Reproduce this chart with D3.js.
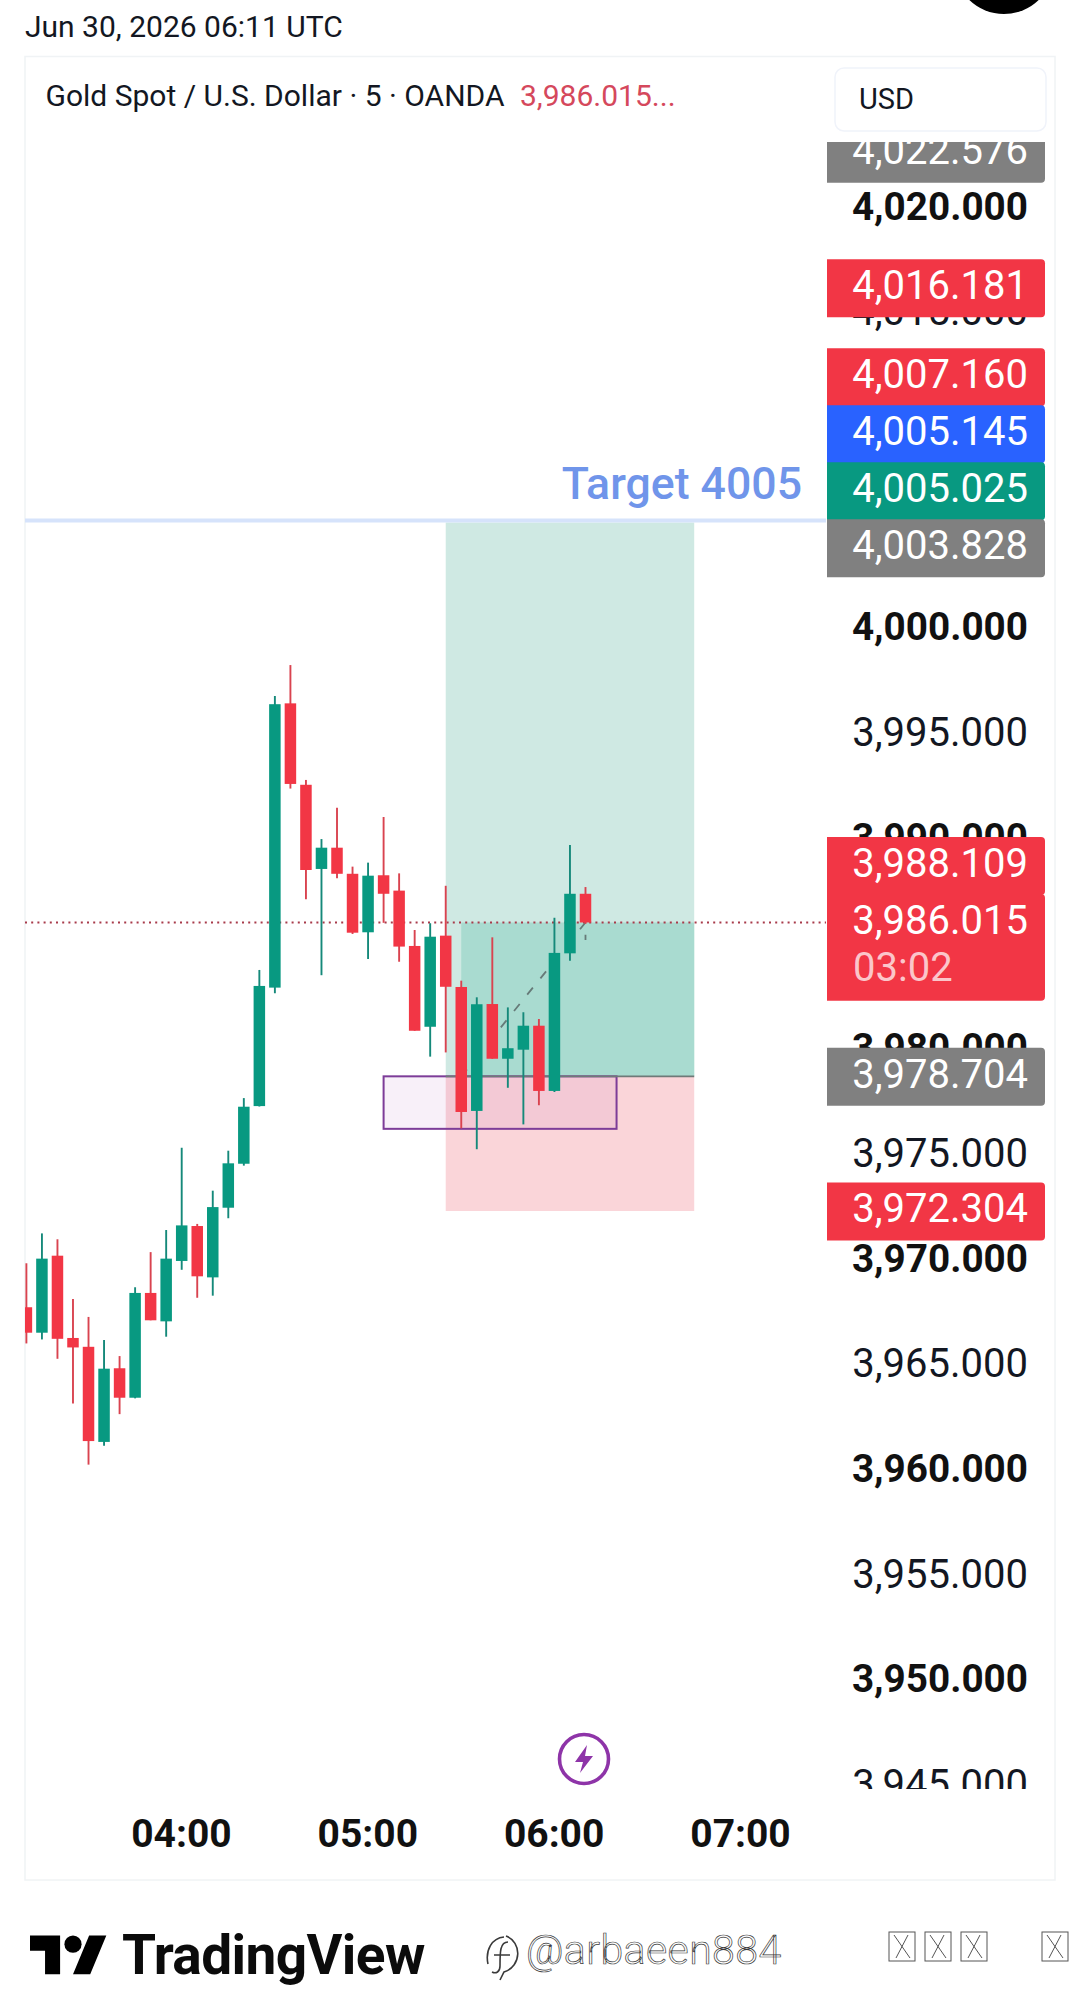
<!DOCTYPE html>
<html>
<head>
<meta charset="utf-8">
<script src="https://cdn.jsdelivr.net/npm/d3@7"></script>
<style>
  html, body { margin: 0; padding: 0; background: #fff; }
  svg { display: block; }
  text { font-family: Roboto, sans-serif; }
</style>
</head>
<body>
<svg id="chart" width="1080" height="2006"></svg>
<script>
// XAUUSD 5-minute candles, UTC
const candleTimes = ["03:10","03:15","03:20","03:25","03:30","03:35","03:40","03:45","03:50","03:55",
  "04:00","04:05","04:10","04:15","04:20","04:25","04:30","04:35","04:40","04:45","04:50","04:55",
  "05:00","05:05","05:10","05:15","05:20","05:25","05:30","05:35","05:40","05:45","05:50","05:55",
  "06:00","06:05","06:10"];
const opens = [3967.73,3966.52,3970.18,3966.27,3965.85,3961.33,3964.83,3963.43,3968.41,3967.06,
  3969.93,3971.59,3969.15,3972.46,3974.55,3977.29,3982.92,3996.43,3992.56,3988.56,3989.57,3988.33,
  3985.55,3988.26,3987.53,3984.90,3981.06,3985.39,3982.95,3977.06,3982.14,3979.54,3979.97,3981.11,
  3978.01,3984.55,3987.38];
const highs = [3969.82,3971.24,3970.96,3968.12,3967.27,3966.17,3965.41,3968.68,3970.35,3971.40,
  3975.31,3971.69,3973.27,3975.17,3977.67,3983.76,3996.78,3998.25,3992.79,3989.98,3991.47,3988.67,
  3988.86,3991.03,3988.35,3985.66,3985.98,3987.76,3983.25,3982.46,3985.31,3981.98,3981.75,3981.43,
  3986.24,3989.70,3987.70];
const lows = [3966.01,3966.20,3965.28,3963.16,3960.25,3961.15,3962.65,3963.40,3967.11,3966.33,
  3969.51,3968.18,3968.28,3971.96,3974.46,3977.27,3982.65,3992.38,3987.12,3983.51,3988.12,3985.47,
  3984.28,3986.00,3984.15,3980.87,3979.64,3979.84,3976.23,3975.24,3979.54,3978.16,3976.42,3977.33,
  3977.96,3984.20,3985.95];
const closes = [3966.52,3970.04,3966.23,3965.82,3961.37,3964.81,3963.43,3968.41,3967.11,3970.04,
  3971.62,3969.20,3972.49,3974.57,3977.26,3983.00,3996.39,3992.60,3988.51,3989.57,3988.33,3985.53,
  3988.24,3987.38,3984.87,3980.87,3985.34,3982.96,3977.01,3982.13,3979.54,3980.04,3981.11,3978.01,
  3984.57,3987.38,3986.015];

// Long position drawing
const entryPrice = 3978.704, targetPrice = 4005.025, stopPrice = 3972.304, lastPrice = 3986.015;
const positionTimes = ["05:25", "05:30", "06:45"];
const zoneTimes = ["05:05", "06:20"];
const projectionTimes = ["05:30", "06:10", "06:10"];
const projectionPrices = [3978.704, 3986.015, 3985.18];

// Axis ticks
const priceTicks = [4020,4015,4010,4005,4000,3995,3990,3985,3980,3975,3970,3965,3960,3955,3950,3945];
const timeTicks = ["04:00","05:00","06:00","07:00"];

// Right-hand price tags
const tagPrices = [4022.576,4016.181,4007.160,4005.145,4005.025,4003.828,3988.109,3986.015,3978.704,3972.304];
const tagKinds = ["gray","red","red","blue","green","gray","red","last","gray","red"];
const countdown = "03:02";

const watermark = "@arbaeen884";
const dateLine = "Jun 30, 2026 06:11 UTC";
const legendTitle = "Gold Spot / U.S. Dollar · 5 · OANDA";
const legendPrice = "3,986.015...";

const UP = "#089981", DOWN = "#f23645", INK = "#131722";
const tagFill = { gray: "#808080", red: DOWN, last: DOWN, blue: "#2962ff", green: UP };

const parseT = d3.utcParse("%H:%M");
const x = d3.scaleUtc().domain([parseT("04:00"), parseT("07:00")]).range([181.7, 740.8]);
const y = d3.scaleLinear().domain([3986.015, 4020]).range([922.5, 207.4]);

const svg = d3.select("#chart");
const defs = svg.append("defs");
const paneL = 25, paneR = 826, paneT = 142, paneB = 1789;
defs.append("clipPath").attr("id", "pane").append("rect")
  .attr("x", paneL).attr("y", paneT).attr("width", paneR - paneL).attr("height", paneB - paneT);
defs.append("clipPath").attr("id", "scale").append("rect")
  .attr("x", paneR).attr("y", paneT).attr("width", 1055 - paneR).attr("height", paneB - paneT);

// Screen furniture above the chart
svg.append("circle").attr("cx", 1004).attr("cy", -36).attr("r", 50).attr("fill", "#000");
svg.append("rect").attr("x", 25).attr("y", 56.5).attr("width", 1030).attr("height", 1823.5)
  .attr("fill", "#fff").attr("stroke", "#f0f3f5").attr("stroke-width", 1.5);
svg.append("text").attr("x", 25).attr("y", 37).attr("font-size", 30).attr("fill", INK).text(dateLine);
svg.append("text").attr("x", 45.5).attr("y", 106).attr("font-size", 30).attr("fill", INK).text(legendTitle);
svg.append("text").attr("x", 520).attr("y", 106).attr("font-size", 30).attr("fill", "#d5485c").text(legendPrice);
svg.append("rect").attr("x", 835).attr("y", 68).attr("width", 211).attr("height", 63).attr("rx", 9)
  .attr("fill", "#fff").attr("stroke", "#f0f3fa").attr("stroke-width", 1.5);
svg.append("text").attr("x", 859).attr("y", 109).attr("font-size", 29).attr("fill", INK).text("USD");

// Plot pane
const pane = svg.append("g").attr("clip-path", "url(#pane)");
const [tBoxStart, tEntry, tBoxEnd] = positionTimes.map(parseT);

// Profit and stop areas of the position
pane.append("rect").attr("x", x(tBoxStart)).attr("width", x(tBoxEnd) - x(tBoxStart))
  .attr("y", y(targetPrice)).attr("height", y(entryPrice) - y(targetPrice)).attr("fill", "#cfe9e3");
pane.append("rect").attr("x", x(tBoxStart)).attr("width", x(tBoxEnd) - x(tBoxStart))
  .attr("y", y(entryPrice)).attr("height", y(stopPrice) - y(entryPrice)).attr("fill", "#fad5d9");
pane.append("rect").attr("x", x(tEntry)).attr("width", x(tBoxEnd) - x(tEntry))
  .attr("y", y(lastPrice)).attr("height", y(entryPrice) - y(lastPrice)).attr("fill", "#a9dbd0");

// Demand zone
const [tZoneA, tZoneB] = zoneTimes.map(parseT);
pane.append("rect").attr("x", x(tZoneA)).attr("width", x(tZoneB) - x(tZoneA))
  .attr("y", y(entryPrice)).attr("height", 52.5)
  .attr("fill", "#9c27b0").attr("fill-opacity", 0.07)
  .attr("stroke", "#7d3c98").attr("stroke-width", 2);

// Entry level across the position
pane.append("line").attr("x1", x(tBoxStart)).attr("x2", x(tBoxEnd))
  .attr("y1", y(entryPrice)).attr("y2", y(entryPrice))
  .attr("stroke", "#6f7a78").attr("stroke-width", 1.8);

// Target level and its caption
pane.append("line").attr("x1", paneL).attr("x2", paneR)
  .attr("y1", y(targetPrice) - 2).attr("y2", y(targetPrice) - 2)
  .attr("stroke", "#d6e3fb").attr("stroke-width", 4);
pane.append("text").attr("x", 802).attr("y", 499).attr("text-anchor", "end")
  .attr("font-size", 44.6).attr("font-weight", 500).attr("fill", "#7095ea").text("Target 4005");

// Last price line
pane.append("line").attr("x1", paneL).attr("x2", paneR)
  .attr("y1", y(lastPrice)).attr("y2", y(lastPrice))
  .attr("stroke", "#a83a4a").attr("stroke-width", 1.8).attr("stroke-dasharray", "2 4.2");

// Projected path
const projection = d3.line().x(d => x(parseT(d[0]))).y(d => y(d[1]));
pane.append("path").attr("d", projection(d3.zip(projectionTimes, projectionPrices)))
  .attr("fill", "none").attr("stroke", "#667a78").attr("stroke-width", 1.8)
  .attr("stroke-dasharray", "9 12");

// Candles
const candles = candleTimes.map((t, i) => ({
  t: parseT(t), o: opens[i], h: highs[i], l: lows[i], c: closes[i]
}));
const bodyW = 11.5;
const candle = pane.selectAll("g.candle").data(candles).join("g").attr("class", "candle");
candle.append("line")
  .attr("x1", d => x(d.t)).attr("x2", d => x(d.t))
  .attr("y1", d => y(d.h)).attr("y2", d => y(d.l))
  .attr("stroke", d => d.c >= d.o ? "#15897a" : "#d9434f").attr("stroke-width", 1.9);
candle.append("rect")
  .attr("x", d => x(d.t) - bodyW / 2).attr("width", bodyW)
  .attr("y", d => y(Math.max(d.o, d.c)))
  .attr("height", d => Math.abs(y(d.o) - y(d.c)))
  .attr("fill", d => d.c >= d.o ? UP : DOWN);

// Bolt marker
const bolt = svg.append("g").attr("transform", "translate(584,1759)");
bolt.append("circle").attr("r", 24.5).attr("fill", "#fff").attr("stroke", "#8e34a8").attr("stroke-width", 3.6);
bolt.append("path").attr("d", "M3,-14 L-9,3 L-1,3 L-4,14 L9,-3 L1,-3 Z").attr("fill", "#8e34a8");

// Price scale
const scale = svg.append("g").attr("clip-path", "url(#scale)");
const priceAxis = d3.axisRight(y).tickValues(priceTicks).tickSize(0).tickFormat(d3.format(",.3f"));
const priceG = scale.append("g").call(priceAxis);
priceG.select(".domain").remove();
priceG.selectAll("text")
  .attr("x", 1028).attr("text-anchor", "end").attr("dy", "0.3em")
  .attr("font-family", "Roboto, sans-serif")
  .attr("font-size", d => d % 10 === 0 ? 38.7 : 40)
  .attr("font-weight", d => d % 10 === 0 ? 700 : 400)
  .attr("fill", d => d % 10 === 0 ? "#111" : INK);

// Tags stack upward so that none overlaps the one below
const tagH = 57, lastH = 105.7;
const tags = tagPrices.map((p, i) => {
  const h = tagKinds[i] === "last" ? lastH : tagH;
  return { price: p, kind: tagKinds[i], h, top: y(p) - tagH / 2 };
});
for (let i = tags.length - 2; i >= 0; i--) {
  const below = tags[i + 1];
  if (tags[i].top + tags[i].h > below.top) tags[i].top = below.top - tags[i].h;
}
const tagG = scale.selectAll("g.tag").data(tags).join("g").attr("class", "tag");
tagG.append("path").attr("fill", d => tagFill[d.kind]).attr("d", d => {
  const l = 827, r = 1045, q = 4, t = d.top, b = d.top + d.h + 1;
  return `M${l},${t}H${r - q}Q${r},${t} ${r},${t + q}V${b - q}Q${r},${b} ${r - q},${b}H${l}Z`;
});
tagG.append("text").attr("x", 1028).attr("y", d => d.top + tagH / 2 + 11.2)
  .attr("text-anchor", "end").attr("font-size", 40).attr("fill", "#fff")
  .text(d => d3.format(",.3f")(d.price));
tagG.filter(d => d.kind === "last").append("text")
  .attr("x", 853).attr("y", d => d.top + tagH / 2 + 11.2 + 47)
  .attr("font-size", 40).attr("fill", "#fff").attr("fill-opacity", 0.72).text(countdown);

// Time scale
const timeAxis = d3.axisBottom(x).tickValues(timeTicks.map(parseT)).tickSize(0)
  .tickFormat(d3.utcFormat("%H:%M"));
const timeG = svg.append("g").attr("transform", "translate(-0.8,1810)").call(timeAxis);
timeG.select(".domain").remove();
timeG.selectAll("text").attr("y", 9).attr("font-family", "Roboto, sans-serif")
  .attr("font-size", 39).attr("font-weight", 700).attr("fill", "#111");

// TradingView footer
const logo = svg.append("g").attr("transform", "translate(30,1927) scale(2.15)");
logo.append("path").attr("d", "M14 22H7V11H0V4h14v18zM28 22h-8l7.5-18h8L28 22z").attr("fill", "#000");
logo.append("circle").attr("cx", 20).attr("cy", 8).attr("r", 4).attr("fill", "#000");
svg.append("text").attr("x", 122).attr("y", 1974)
  .attr("font-family", "Inter, sans-serif").attr("font-size", 55).attr("font-weight", 700)
  .attr("letter-spacing", -0.6).attr("fill", "#0b0b0b").text("TradingView");

// Handle overlay, embossed white on white
const mark = svg.append("g").attr("fill", "#fff").attr("stroke", "#3a3a3a").attr("stroke-width", 0.7);
mark.append("path").attr("fill", "none").attr("stroke-width", 1.6)
  .attr("d", "M504,1937 C492,1938 485,1950 488,1964 M506,1936 C522,1942 522,1966 504,1972 L500,1980 M494,1955 H510 M508,1942 C500,1942 500,1952 500,1966 C500,1972 496,1974 492,1972");
mark.append("text").attr("x", 526).attr("y", 1964)
  .attr("font-family", "Lato, sans-serif").attr("font-size", 41).attr("font-weight", 300)
  .attr("letter-spacing", 0.4).text(watermark);

// Four empty glyph boxes after the handle
const boxLefts = [889, 925, 961, 1042];
const boxes = svg.selectAll("g.glyph").data(boxLefts).join("g").attr("class", "glyph")
  .attr("fill", "none").attr("stroke", "#555").attr("stroke-width", 1);
boxes.append("rect").attr("x", d => d).attr("y", 1932).attr("width", 26).attr("height", 29).attr("fill", "#fff");
boxes.append("path").attr("d", d => `M${d + 5},1935 L${d + 21},1958 M${d + 19},1935 L${d + 7},1958`);
</script>
</body>
</html>
